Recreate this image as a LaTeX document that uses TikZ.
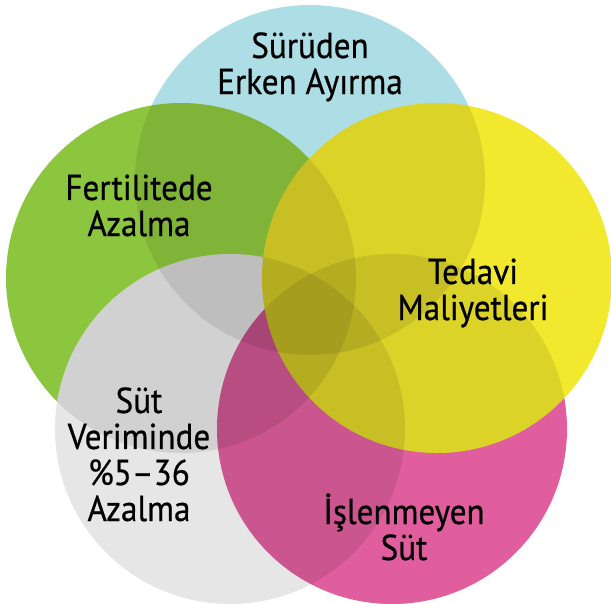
\documentclass[tikz,border=0pt]{standalone}
\usepackage{fontspec}
\setmainfont{PT Sans}[FakeStretch=0.92, FakeBold=0.6]
\definecolor{cblue}{HTML}{ADDEE5}
\definecolor{cgreen}{HTML}{8CC63F}
\definecolor{cgray}{HTML}{E6E6E6}
\definecolor{cpink}{HTML}{E05E9E}
\definecolor{cyellow}{HTML}{F2E92E}
\begin{document}
\begin{tikzpicture}[x=0.02cm, y=-0.02cm, font=\fontsize{20.5}{20.5}\selectfont,
	lbl/.style={align=center, inner sep=0pt, anchor=base}]
	\useasboundingbox (0,0) rectangle (611,603);
	\coordinate (cB) at (310,180);
	\coordinate (cG) at (181,278);
	\coordinate (cS) at (230,429);
	\coordinate (cP) at (392,429);
	\coordinate (cY) at (437,278);
	% circles from bottom to top, overlaps a bit darker
	\foreach \c/\clr [count=\k] in {B/cblue, G/cgreen, S/cgray, P/cpink, Y/cyellow}{
		\fill[\clr] (c\c) circle[radius=175];
		\foreach \p [count=\j] in {B,G,S,P,Y}{
			\ifnum\j<\k
			\begin{scope}
				\clip (c\c) circle[radius=175];
				\fill[black, opacity=.09] (c\p) circle[radius=175];
			\end{scope}
			\fi
		}
	}
	% labels, placed at the baseline of their last line
	\node[lbl] (erken) at (310,94) {Sürüden\\Erken Ayırma};
	\node[lbl] (fert) at (139,236) {Fertilitede\\Azalma};
	\node[lbl] (tedavi) at (473,320) {Tedavi\\Maliyetleri};
	\node[lbl] (verim) at (139,521) {Süt\\Veriminde\\\%5–36\\Azalma};
	\node[lbl] (islen) at (404,560) {İşlenmeyen\\Süt};
\end{tikzpicture}
\end{document}
